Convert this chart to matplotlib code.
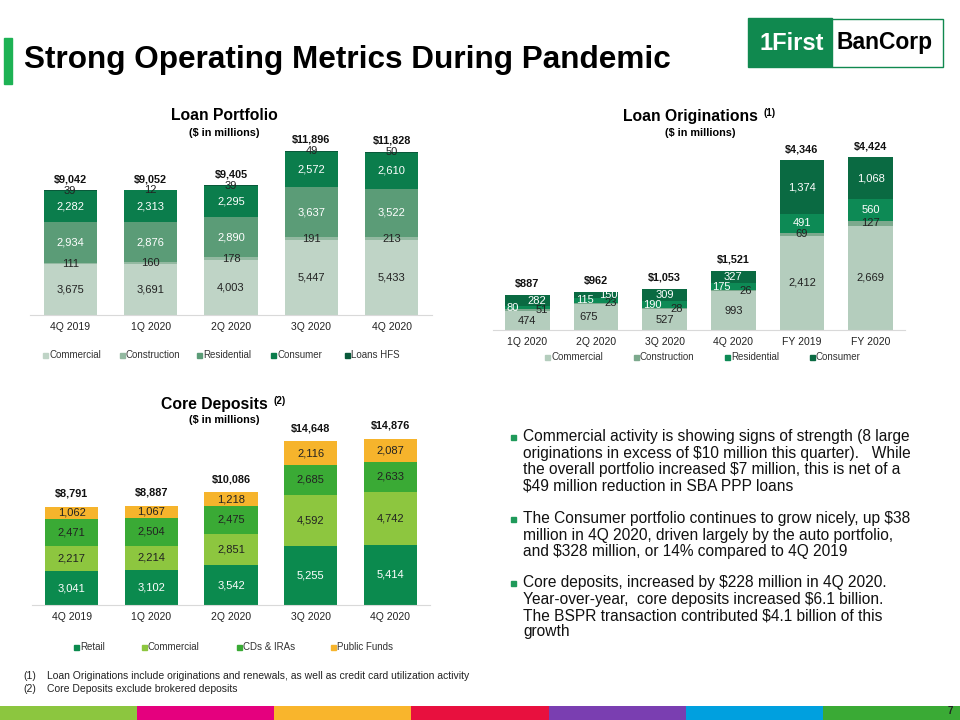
import matplotlib
matplotlib.use("Agg")
import matplotlib.pyplot as plt
from matplotlib.patches import Rectangle
import numpy as np

plt.rcParams['font.family'] = ['Liberation Sans', 'DejaVu Sans']

W, H = 960, 720

# Loan portfolio ($ in millions)
lp_quarters = ["4Q 2019", "1Q 2020", "2Q 2020", "3Q 2020", "4Q 2020"]
lp_commercial = [3675, 3691, 4003, 5447, 5433]
lp_construction = [111, 160, 178, 191, 213]
lp_residential = [2934, 2876, 2890, 3637, 3522]
lp_consumer = [2282, 2313, 2295, 2572, 2610]
lp_hfs = [39, 12, 39, 49, 50]
lp_totals = [9042, 9052, 9405, 11896, 11828]
lp_names = ["Commercial", "Construction", "Residential", "Consumer", "Loans HFS"]

# Loan originations ($ in millions)
lo_periods = ["1Q 2020", "2Q 2020", "3Q 2020", "4Q 2020", "FY 2019", "FY 2020"]
lo_commercial = [474, 675, 527, 993, 2412, 2669]
lo_construction = [51, 23, 28, 26, 69, 127]
lo_residential = [80, 115, 190, 175, 491, 560]
lo_consumer = [282, 150, 309, 327, 1374, 1068]
lo_totals = [887, 962, 1053, 1521, 4346, 4424]
lo_names = ["Commercial", "Construction", "Residential", "Consumer"]

# Core deposits ($ in millions)
cd_quarters = ["4Q 2019", "1Q 2020", "2Q 2020", "3Q 2020", "4Q 2020"]
cd_retail = [3041, 3102, 3542, 5255, 5414]
cd_commercial = [2217, 2214, 2851, 4592, 4742]
cd_cds = [2471, 2504, 2475, 2685, 2633]
cd_public = [1062, 1067, 1218, 2116, 2087]
cd_totals = [8791, 8887, 10086, 14648, 14876]
cd_names = ["Retail", "Commercial", "CDs & IRAs", "Public Funds"]

lp_colors = ["#bfd4c6", "#93b9a1", "#5b9c77", "#0b7d4c", "#09593a"]
lp_txt = ["#222222", "#222222", "white", "white", "#222222"]
lo_colors = ["#b4cdbd", "#7ca98d", "#0d8a55", "#0a6a42"]
lo_txt = ["#222222", "#222222", "white", "white"]
cd_colors = ["#0b8a4e", "#8dc63f", "#3aaa35", "#f6b42c"]
cd_txt = ["white", "#222222", "#222222", "#222222"]

# label x-shifts (px) for the thin originations segments
lo_dx = [
    [0, -7, 0, 0, 0, 0],
    [14, 15, 12, 12, 0, 0],
    [-15, -11, -12, -12, 0, 0],
    [9, 12, 0, 0, 0, 0],
]


def px_axes(fig, x0, x1, y_base, height):
    return fig.add_axes([x0 / W, 1 - y_base / H, (x1 - x0) / W, height / H])


def stacked(ax, cats, series, colors, txt_colors, totals, ymax, width,
            total_off=11, dx=None):
    x = np.arange(len(cats))
    bottom = np.zeros(len(cats))
    for k, vals in enumerate(series):
        vals = np.array(vals, float)
        ax.bar(x, vals, width, bottom=bottom, color=colors[k], edgecolor="none")
        for i, v in enumerate(vals):
            off = 0 if dx is None else dx[k][i] * 0.72
            ax.annotate(f"{int(v):,}", (x[i], bottom[i] + v / 2),
                        xytext=(off, 0), textcoords="offset points",
                        ha="center", va="center", color=txt_colors[k], fontsize=8)
        bottom += vals
    for i, t in enumerate(totals):
        ax.annotate(f"${t:,}", (x[i], bottom[i]), xytext=(0, total_off * 0.72),
                    textcoords="offset points", ha="center", va="center",
                    fontsize=7.8, fontweight="bold", color="#111111")
    ax.set_xlim(-0.5, len(cats) - 0.5)
    ax.set_ylim(0, ymax)
    ax.set_xticks(x, cats)
    ax.tick_params(axis="x", length=0, labelsize=7.5, pad=5, labelcolor="#222222")
    ax.set_yticks([])
    for s in ["top", "right", "left"]:
        ax.spines[s].set_visible(False)
    ax.spines["bottom"].set_color("#d9d9d9")
    ax.patch.set_alpha(0)


def legend(bg, names, colors, xs, y):
    for name, col, x in zip(names, colors, xs):
        bg.add_patch(Rectangle((x - 2.5, y - 2.5), 5, 5, color=col))
        bg.text(x + 4, y, name, fontsize=7, va="center", ha="left", color="#333333")


fig = plt.figure(figsize=(9.6, 7.2), dpi=100)
bg = fig.add_axes([0, 0, 1, 1])
bg.set_xlim(0, W)
bg.set_ylim(H, 0)
bg.axis("off")

# header
bg.add_patch(Rectangle((4, 38), 8, 46, color="#1db254"))
bg.text(24, 60, "Strong Operating Metrics During Pandemic", fontsize=22.7,
        fontweight="bold", va="center", ha="left", color="#000000")
bg.add_patch(Rectangle((748, 18), 84, 49, color="#10894f"))
bg.add_patch(Rectangle((832, 18.5), 110.5, 48, facecolor="white",
                       edgecolor="#10894f", lw=1))
bg.text(792, 43, "1First", fontsize=17, fontweight="bold", color="white",
        ha="center", va="center")
bg.text(885, 43, "BanCorp", fontsize=16.5, fontweight="bold", color="black",
        ha="center", va="center")

# chart titles
bg.text(224, 116, "Loan Portfolio", fontsize=11.3, fontweight="bold", ha="center", va="center")
bg.text(224, 133, "($ in millions)", fontsize=7.8, fontweight="bold", ha="center", va="center")
bg.text(690, 116, "Loan Originations", fontsize=11.3, fontweight="bold", ha="center", va="center")
bg.text(770, 113, "(1)", fontsize=7, fontweight="bold", ha="center", va="center")
bg.text(700, 133, "($ in millions)", fontsize=7.8, fontweight="bold", ha="center", va="center")
bg.text(214, 404, "Core Deposits", fontsize=11.3, fontweight="bold", ha="center", va="center")
bg.text(280, 401, "(2)", fontsize=7, fontweight="bold", ha="center", va="center")
bg.text(224, 420, "($ in millions)", fontsize=7.8, fontweight="bold", ha="center", va="center")

# charts
ax1 = px_axes(fig, 30, 432, 315, 12500 / 72.5)
stacked(ax1, lp_quarters,
        [lp_commercial, lp_construction, lp_residential, lp_consumer, lp_hfs],
        lp_colors, lp_txt, lp_totals, 12500, 0.66)
legend(bg, lp_names, lp_colors, [45, 122, 199, 273, 347], 355)

ax2 = px_axes(fig, 493, 905, 330, 4600 / 25.6)
stacked(ax2, lo_periods,
        [lo_commercial, lo_construction, lo_residential, lo_consumer],
        lo_colors, lo_txt, lo_totals, 4600, 0.655, dx=lo_dx)
legend(bg, lo_names, lo_colors, [547, 636, 727, 812], 357)

ax3 = px_axes(fig, 32, 430, 605, 15500 / 89.5)
stacked(ax3, cd_quarters, [cd_retail, cd_commercial, cd_cds, cd_public],
        cd_colors, cd_txt, cd_totals, 15500, 0.666, total_off=13)
legend(bg, cd_names, cd_colors, [76, 144, 239, 333], 647)

# commentary
bullets = [
    ["Commercial activity is showing signs of strength (8 large",
     "originations in excess of $10 million this quarter).   While",
     "the overall portfolio increased $7 million, this is net of a",
     "$49 million reduction in SBA PPP loans"],
    ["The Consumer portfolio continues to grow nicely, up $38",
     "million in 4Q 2020, driven largely by the auto portfolio,",
     "and $328 million, or 14% compared to 4Q 2019"],
    ["Core deposits, increased by $228 million in 4Q 2020.",
     "Year-over-year,  core deposits increased $6.1 billion.",
     "The BSPR transaction contributed $4.1 billion of this",
     "growth"],
]
para_y = [437, 519, 583]
for lines, y0 in zip(bullets, para_y):
    bg.add_patch(Rectangle((510.5, y0 - 2.5), 5, 5, color="#1f9a5a"))
    for j, line in enumerate(lines):
        bg.text(523, y0 + j * 16.3, line, fontsize=11.2, ha="left", va="center",
                color="#111111")

# footnotes
bg.text(23, 676, "(1)", fontsize=7.5, va="center", color="#222222")
bg.text(47, 676, "Loan Originations include originations and renewals, as well as credit card utilization activity",
        fontsize=7.5, va="center", color="#222222")
bg.text(23, 689, "(2)", fontsize=7.5, va="center", color="#222222")
bg.text(47, 689, "Core Deposits exclude brokered deposits", fontsize=7.5,
        va="center", color="#222222")

# footer stripes
stripe_colors = ["#8cc63f", "#e5007e", "#f9b52c", "#e8103e", "#7a3eb1", "#00a0df", "#3aaa35"]
sw = W / len(stripe_colors)
for i, c in enumerate(stripe_colors):
    bg.add_patch(Rectangle((i * sw, 706), sw + 0.5, 14, color=c, lw=0))
bg.text(950, 711, "7", fontsize=7, fontweight="bold", ha="center", va="center", color="#222222")

fig.savefig("out.png", dpi=100)
